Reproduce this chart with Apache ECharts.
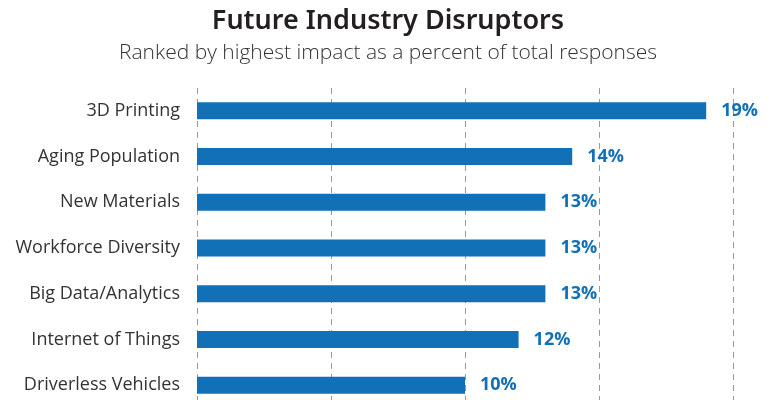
<!DOCTYPE html>
<html>
<head>
<meta charset="utf-8">
<script src="https://cdn.jsdelivr.net/npm/echarts@6/dist/echarts.min.js"></script>
<style>
  html, body { margin: 0; padding: 0; background: #fff; overflow: hidden; }
  body { width: 776px; height: 400px; }
  /* plot runs slightly past the bottom edge, so the last row is clipped */
  #chart { width: 776px; height: 408px; }
</style>
</head>
<body>
<div id="chart"></div>
<script>
// Disruptors, listed top to bottom
var categories = [
  '3D Printing',
  'Aging Population',
  'New Materials',
  'Workforce Diversity',
  'Big Data/Analytics',
  'Internet of Things',
  'Driverless Vehicles'
];
// Share of total responses rating each as highest impact (%)
var shares = [19, 14, 13, 13, 13, 12, 10];
var axisTicks = [0, 5, 10, 15, 20];

var chart = echarts.init(document.getElementById('chart'), null, { renderer: 'canvas' });

chart.setOption({
  animation: false,
  title: [
    {
      text: 'Future Industry Disruptors',
      left: 'center',
      top: 3,
      textStyle: { fontFamily: 'Noto Sans', fontWeight: 600, fontSize: 27, color: '#231f20' }
    },
    {
      text: 'Ranked by highest impact as a percent of total responses',
      left: 'center',
      top: 38,
      textStyle: { fontFamily: 'Open Sans', fontWeight: 300, fontSize: 21, color: '#333333' }
    }
  ],
  grid: { left: 197, top: 88, width: 536, bottom: 0, containLabel: false },
  xAxis: {
    type: 'value',
    min: axisTicks[0],
    max: axisTicks[axisTicks.length - 1],
    interval: axisTicks[1] - axisTicks[0],
    axisLine: { show: false },
    axisTick: { show: false },
    axisLabel: { show: false },
    splitLine: {
      show: true,
      lineStyle: { color: '#9a9a9a', width: 1, type: [6, 5] }
    }
  },
  yAxis: {
    type: 'category',
    inverse: true,
    data: categories,
    axisLine: { show: false },
    axisTick: { show: false },
    axisLabel: {
      margin: 17,
      fontFamily: 'Open Sans',
      fontSize: 18,
      color: '#333333'
    }
  },
  series: [{
    type: 'bar',
    data: shares,
    barWidth: 17,
    itemStyle: { color: '#1170b6' },
    label: {
      show: true,
      position: 'right',
      distance: 15,
      formatter: function (p) { return p.value + '%'; },
      fontFamily: 'Open Sans',
      fontWeight: 'bold',
      fontSize: 18,
      color: '#1170b6'
    }
  }]
});
</script>
</body>
</html>
